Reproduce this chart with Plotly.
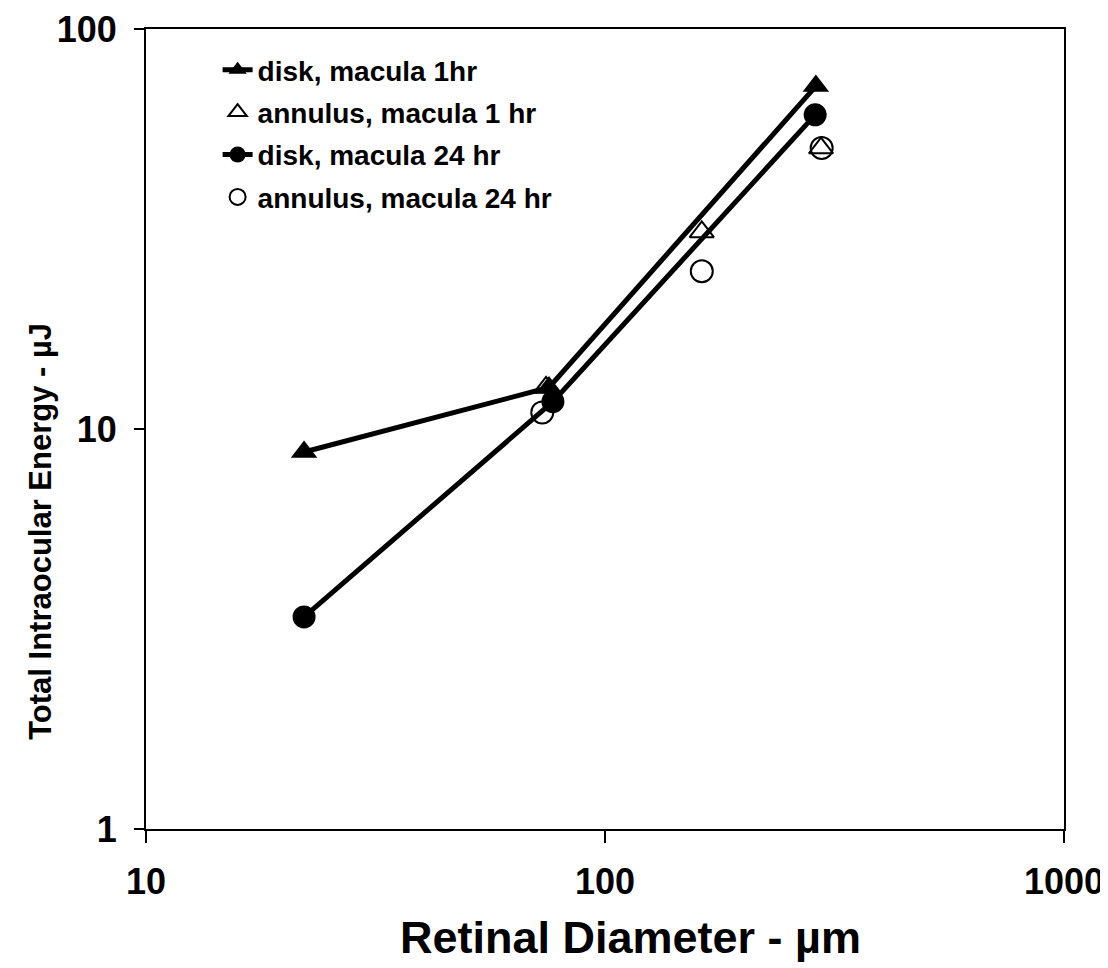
import plotly.graph_objects as go

# Data
disk1_x = [22.1, 75.5, 288]
disk1_y = [8.76, 12.7, 72.0]
ann1_x = [74.4, 162.5, 295.5]
ann1_y = [12.7, 31.1, 50.4]
disk24_x = [22.1, 77.0, 287]
disk24_y = [3.39, 11.7, 61.0]
ann24_x = [73.0, 162.5, 296.5]
ann24_y = [11.0, 24.8, 50.4]

names = ["disk, macula 1hr", "annulus, macula 1 hr", "disk, macula 24 hr", "annulus, macula 24 hr"]
x_ticks = [10, 100, 1000]
y_ticks = [1, 10, 100]
x_title = "Retinal Diameter - µm"
y_title = "Total Intraocular Energy - µJ"

FONT = "Liberation Sans, Arial, sans-serif"

fig = go.Figure()
fig.add_trace(go.Scatter(x=disk1_x, y=disk1_y, mode="lines+markers", name=names[0],
                         legendgroup="a",
                         line=dict(color="black", width=5),
                         marker=dict(symbol="triangle-up", size=23, color="black")))
fig.add_trace(go.Scatter(x=ann1_x, y=ann1_y, mode="markers", name=names[1],
                         legendgroup="b",
                         marker=dict(symbol="triangle-up-open", size=21, color="black",
                                     line=dict(width=2, color="black"))))
fig.add_trace(go.Scatter(x=disk24_x, y=disk24_y, mode="lines+markers", name=names[2],
                         legendgroup="c",
                         line=dict(color="black", width=5),
                         marker=dict(symbol="circle", size=23, color="black")))
fig.add_trace(go.Scatter(x=ann24_x, y=ann24_y, mode="markers", name=names[3],
                         legendgroup="d",
                         marker=dict(symbol="circle-open", size=22, color="black",
                                     line=dict(width=2, color="black"))))

fig.update_layout(
    width=1108, height=968,
    margin=dict(l=138, r=52, t=21, b=147, autoexpand=False),
    paper_bgcolor="white", plot_bgcolor="white",
    font=dict(family=FONT, color="black"),
    legend=dict(x=0.078, y=0.98, xanchor="left", yanchor="top",
                bgcolor="rgba(0,0,0,0)", tracegroupgap=3,
                font=dict(size=28, family=FONT, weight="bold", color="black")),
    showlegend=True,
    annotations=[
        dict(text=x_title, xref="paper", yref="paper", x=0.528, y=-0.135,
             xanchor="center", yanchor="middle", showarrow=False,
             font=dict(size=45, family=FONT, weight="bold", color="black")),
        dict(text=y_title, xref="paper", yref="paper", x=-0.115, y=0.372,
             xanchor="center", yanchor="middle", showarrow=False, textangle=-90,
             font=dict(size=31, family=FONT, weight="bold", color="black")),
    ],
)
fig.update_xaxes(type="log", range=[1, 3], tickvals=x_ticks, ticktext=[str(v) for v in x_ticks],
                 ticks="outside", ticklen=12, tickwidth=1.5, tickcolor="black",
                 showline=True, linecolor="black", linewidth=2, mirror=True,
                 showgrid=False, zeroline=False, ticklabelstandoff=8,
                 tickfont=dict(size=36, family=FONT, weight="bold"))
fig.update_yaxes(type="log", range=[0, 2], tickvals=y_ticks, ticktext=[str(v) for v in y_ticks],
                 ticks="outside", ticklen=10, tickwidth=1.5, tickcolor="black",
                 showline=True, linecolor="black", linewidth=2, mirror=True,
                 showgrid=False, zeroline=False, ticklabelstandoff=10,
                 tickfont=dict(size=36, family=FONT, weight="bold"))

fig.write_html("out.html")
